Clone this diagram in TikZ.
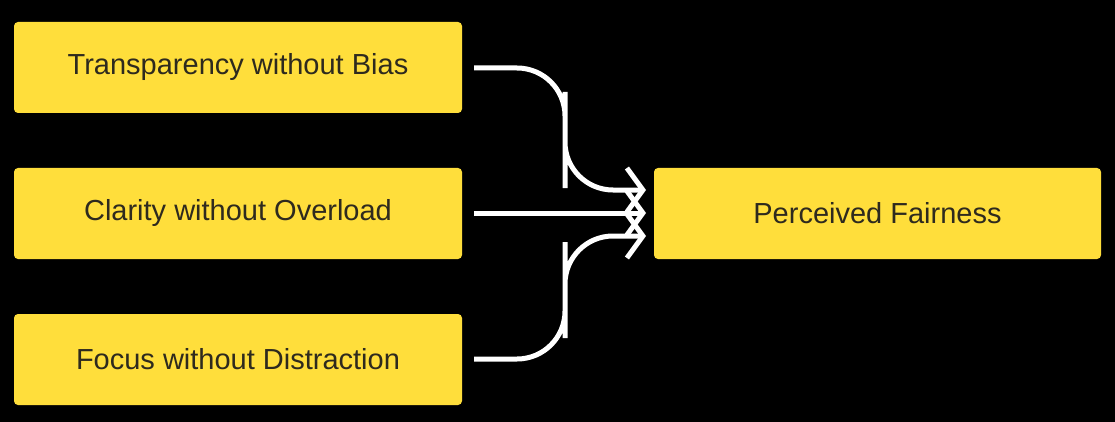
\documentclass[tikz,border=0pt]{standalone}
\usepackage{fontspec}
\setmainfont{Liberation Sans}
\usetikzlibrary{arrows.meta}
\definecolor{ybox}{HTML}{FFDE3B}
\definecolor{tx}{HTML}{2E2A1E}
\begin{document}
\begin{tikzpicture}[x=1pt,y=-1pt,
  box/.style={fill=ybox,rounded corners=4pt,minimum width=448pt,minimum height=91pt,text=tx,font=\fontsize{29}{34}\selectfont,inner sep=0pt},
  con/.style={white,line width=5pt,rounded corners=48pt,-{Straight Barb[length=16pt,width=44pt,line width=5pt]}}]
\fill[black] (0,0) rectangle (1115,422);
\useasboundingbox (0,0) rectangle (1115,422);
\node[box] (a) at (238,67.5) {Transparency without Bias};
\node[box] (b) at (238,213.5) {Clarity without Overload};
\node[box] (c) at (238,359.5) {Focus without Distraction};
\node[box,minimum width=447pt] (p) at (877.5,213.5) {Perceived Fairness};
\coordinate (a1) at (474,68);
\coordinate (b1) at (474,213);
\coordinate (c1) at (474,359);
\coordinate (t1) at (646,190);
\coordinate (t2) at (646,213);
\coordinate (t3) at (646,236);
\draw[con] (a1) -| (565,140) |- (t1);
\draw[con] (b1) -- (t2);
\draw[con] (c1) -| (565,290) |- (t3);
\end{tikzpicture}
\end{document}
